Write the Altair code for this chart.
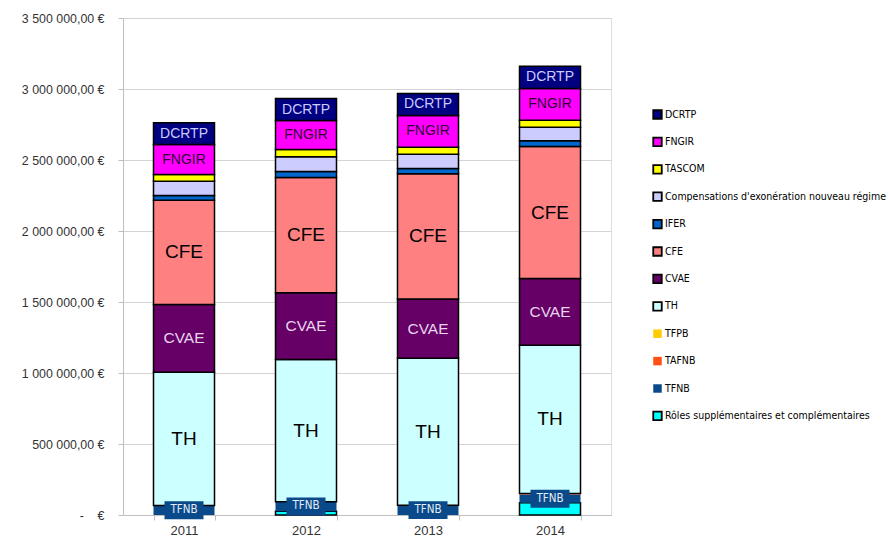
import altair as alt
import pandas as pd

years = ["2011", "2012", "2013", "2014"]

# Series, listed from the bottom of each stack to the top
roles = [0, 27000, 0, 86000]
tfnb = [67000, 66000, 69000, 58000]
tafnb = [0, 0, 0, 7000]
tfpb = [0, 0, 0, 0]
th = [939000, 1002000, 1035000, 1044000]
cvae = [477000, 470000, 418000, 470000]
cfe = [734000, 812000, 882000, 930000]
ifer = [33000, 42000, 37000, 40000]
compensations = [101000, 104000, 99000, 96000]
tascom = [47000, 51000, 49000, 49000]
fngir = [211000, 204000, 225000, 223000]
dcrtp = [153000, 155000, 155000, 157000]

ROLES = "Rôles supplémentaires et  complémentaires"
COMP = "Compensations d'exonération nouveau régime"

stack_names = [ROLES, "TFNB", "TAFNB", "TFPB", "TH", "CVAE", "CFE", "IFER",
               COMP, "TASCOM", "FNGIR", "DCRTP"]
stack_values = [roles, tfnb, tafnb, tfpb, th, cvae, cfe, ifer,
                compensations, tascom, fngir, dcrtp]

colors = {
    "DCRTP": "#000080",
    "FNGIR": "#FF00FF",
    "TASCOM": "#FFFF00",
    COMP: "#CCCCFF",
    "IFER": "#0066CC",
    "CFE": "#FF8080",
    "CVAE": "#660066",
    "TH": "#CCFFFF",
    "TFPB": "#FFCC00",
    "TAFNB": "#FF5014",
    "TFNB": "#0B4A8A",
    ROLES: "#00FFFF",
}
legend_order = list(reversed(stack_names))

rows = []
for rank, (name, vals) in enumerate(zip(stack_names, stack_values)):
    for year, v in zip(years, vals):
        rows.append({"annee": year, "taxe": name, "rang": rank, "montant": v})
df = pd.DataFrame(rows)

sans = "Liberation Sans, Arial, sans-serif"
narrow = "Liberation Sans Narrow, Arial Narrow, DejaVu Sans Condensed, Liberation Sans, sans-serif"
unframed = "indexof(['TFNB','TAFNB','TFPB'], datum.value) >= 0"

base = (
    alt.Chart(df)
    .transform_filter("datum.montant > 0")
    .transform_stack(
        stack="montant", groupby=["annee"], sort=[alt.SortField("rang", order="ascending")],
        as_=["bas", "haut"],
    )
    .transform_calculate(milieu="(datum.bas + datum.haut) / 2")
)

x_enc = alt.X(
    "annee:N", title=None,
    scale=alt.Scale(paddingInner=0.5, paddingOuter=0.25),
    axis=alt.Axis(labelAngle=0, labelFont=sans, labelFontSize=13, labelColor="#333333",
                  tickBand="extent", tickSize=5, tickColor="#BFBFBF", domainColor="#BFBFBF",
                  labelPadding=4, grid=False),
)

y_label = ("datum.value == 0 ? '-\u00a0\u00a0\u00a0\u00a0€' : "
           "replace(replace(format(datum.value, ',.2f'), /,/g, '\u00a0'), '.', ',') + '\u00a0€'")

y_scale = alt.Scale(domain=[0, 3500000], nice=False)

bars = base.mark_bar(stroke="black").encode(
    x=x_enc,
    y=alt.Y("bas:Q", title=None, scale=y_scale,
            axis=alt.Axis(values=list(range(0, 3500001, 500000)), labelExpr=y_label,
                          labelFont=sans, labelFontSize=12.4, labelColor="#333333",
                          tickSize=5, tickColor="#BFBFBF", domainColor="#BFBFBF",
                          gridColor="#D4D4D4", labelPadding=14)),
    y2="haut:Q",
    color=alt.Color(
        "taxe:N",
        scale=alt.Scale(domain=legend_order, range=[colors[t] for t in legend_order]),
        legend=alt.Legend(
            title=None, orient="none", legendX=529, legendY=91,
            symbolType="square", symbolSize=72,
            symbolStrokeColor={"expr": unframed + " ? 'transparent' : 'black'"},
            symbolStrokeWidth=1.8, symbolOpacity=1,
            labelFont=narrow, labelFontSize=10.5, labelColor="#000000",
            labelLimit=400, rowPadding=10.4, labelOffset=2,
        ),
    ),
    strokeWidth=alt.condition(
        "indexof(['TFNB','TAFNB','TFPB'], datum.taxe) >= 0", alt.value(0), alt.value(1.5)
    ),
    order=alt.Order("rang:Q"),
)

# Names written inside the main segments
label_styles = [
    ("DCRTP", 14, "#CCCCFF"),
    ("FNGIR", 14, "#330033"),
    ("CFE", 19, "#000000"),
    ("CVAE", 15.5, "#E8D4EC"),
    ("TH", 19, "#000000"),
]
labels = []
for name, size, col in label_styles:
    labels.append(
        base.transform_filter(alt.datum.taxe == name)
        .mark_text(font=sans, fontSize=size, color=col, baseline="middle")
        .encode(x=alt.X("annee:N"), y=alt.Y("milieu:Q", scale=y_scale), text="taxe:N")
    )

tfnb_rows = base.transform_filter(alt.datum.taxe == "TFNB")
tfnb_box = tfnb_rows.mark_point(
    shape="M-1,-0.46L1,-0.46L1,0.46L-1,0.46Z", size=39 * 39, filled=True,
    color="#0B4A8A", opacity=1,
).encode(x=alt.X("annee:N"), y=alt.Y("milieu:Q", scale=y_scale))
tfnb_text = tfnb_rows.mark_text(
    font=narrow, fontSize=11.5, color="#E6ECF5", baseline="middle"
).encode(x=alt.X("annee:N"), y=alt.Y("milieu:Q", scale=y_scale), text="taxe:N")

chart = (
    alt.layer(bars, *labels, tfnb_box, tfnb_text)
    .properties(
        width=488, height=497,
        autosize=alt.AutoSizeParams(type="none"),
        padding={"left": 123, "top": 18, "right": 279, "bottom": 24},
    )
    .configure_view(stroke=None)
    .configure(background="white")
)

chart.save("out.html", embed_options={"renderer": "svg", "actions": False})
